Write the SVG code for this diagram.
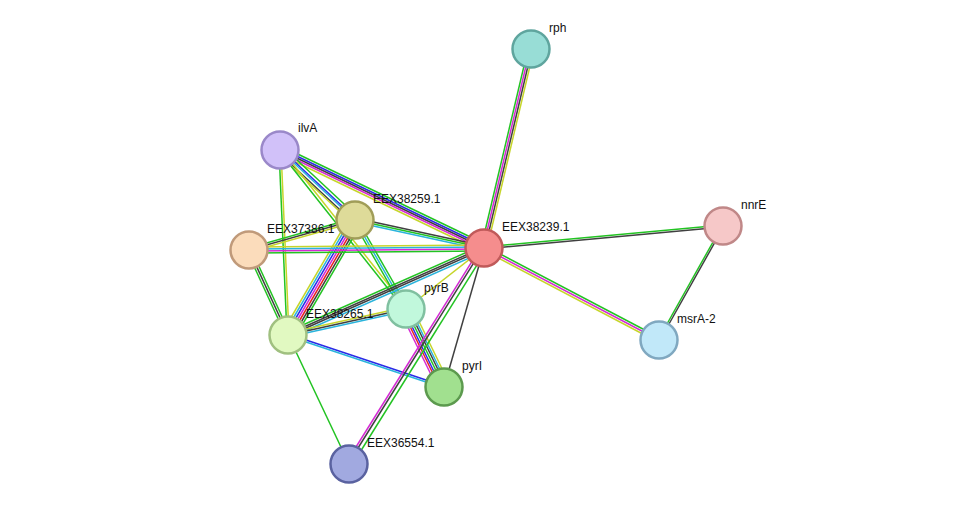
<svg xmlns="http://www.w3.org/2000/svg" width="976" height="510" viewBox="0 0 976 510">
<style>
line{stroke-width:1.5;fill:none}
.g{stroke:#22c322}.k{stroke:#404040}.m{stroke:#d42ad4}.y{stroke:#c6d52a}.b{stroke:#2a2ae8}.c{stroke:#2ab4dc}.r{stroke:#e82020}
circle{stroke-width:2.5}
text{font-family:"Liberation Sans",Arial,sans-serif;font-size:12px;fill:#111}
</style>
<rect width="976" height="510" fill="#fff"/>
<g id="connectors">
<!-- rph-EEX38239 -->
<g><line class="g" x1="528" y1="49" x2="481" y2="248"/><line class="m" x1="530" y1="49" x2="483" y2="248"/><line class="k" x1="532" y1="49" x2="485" y2="248"/><line class="y" x1="534" y1="49" x2="487" y2="248"/></g>
<!-- ilvA-EEX38239 -->
<g><line class="g" x1="281" y1="146" x2="485" y2="244"/><line class="b" x1="280" y1="148" x2="484" y2="246"/><line class="k" x1="280" y1="150" x2="484" y2="248"/><line class="m" x1="280" y1="152" x2="484" y2="250"/><line class="y" x1="279" y1="154" x2="483" y2="252"/></g>
<!-- ilvA-EEX38259 -->
<g><line class="g" x1="283" y1="147" x2="358" y2="217"/><line class="b" x1="281" y1="149" x2="356" y2="219"/><line class="c" x1="280" y1="150" x2="355" y2="220"/><line class="k" x1="278" y1="152" x2="353" y2="222"/><line class="y" x1="277" y1="153" x2="352" y2="223"/></g>
<!-- ilvA-EEX38265 -->
<g><line class="g" x1="279" y1="150" x2="287" y2="335"/><line class="y" x1="281" y1="150" x2="289" y2="335"/></g>
<!-- ilvA-pyrB -->
<g><line class="y" x1="281" y1="149" x2="407" y2="308"/><line class="g" x1="279" y1="151" x2="405" y2="310"/></g>
<!-- EEX38259-pyrB -->
<g><line class="g" x1="357" y1="219" x2="408" y2="308"/><line class="c" x1="355" y1="220" x2="406" y2="309"/><line class="g" x1="353" y1="221" x2="404" y2="310"/></g>
<!-- EEX38259-EEX38239 -->
<g><line class="k" x1="355" y1="218" x2="484" y2="246"/><line class="g" x1="355" y1="220" x2="484" y2="248"/><line class="c" x1="355" y1="222" x2="484" y2="250"/></g>
<!-- EEX38259-EEX37386 -->
<g><line class="g" x1="355" y1="218" x2="249" y2="248"/><line class="k" x1="355" y1="220" x2="249" y2="250"/><line class="y" x1="355" y1="222" x2="249" y2="252"/></g>
<!-- EEX38259-EEX38265 -->
<g><line class="y" x1="349" y1="218" x2="282" y2="333"/><line class="c" x1="351" y1="219" x2="284" y2="334"/><line class="b" x1="353" y1="220" x2="286" y2="335"/><line class="m" x1="355" y1="221" x2="288" y2="336"/><line class="r" x1="357" y1="222" x2="290" y2="337"/><line class="k" x1="359" y1="223" x2="292" y2="338"/><line class="g" x1="361" y1="224" x2="294" y2="339"/></g>
<!-- EEX37386-EEX38239 -->
<g><line class="y" x1="249" y1="247" x2="484" y2="245"/><line class="c" x1="249" y1="249" x2="484" y2="247"/><line class="m" x1="249" y1="251" x2="484" y2="249"/><line class="g" x1="249" y1="253" x2="484" y2="251"/></g>
<!-- EEX37386-EEX38265 -->
<g><line class="g" x1="247" y1="251" x2="286" y2="336"/><line class="k" x1="249" y1="250" x2="288" y2="335"/><line class="g" x1="251" y1="249" x2="290" y2="334"/></g>
<!-- EEX38265-EEX38239 -->
<g><line class="g" x1="287" y1="332" x2="483" y2="245"/><line class="k" x1="288" y1="334" x2="484" y2="247"/><line class="k" x1="288" y1="336" x2="484" y2="249"/><line class="c" x1="289" y1="338" x2="485" y2="251"/></g>
<!-- EEX38265-pyrB -->
<g><line class="y" x1="288" y1="333" x2="406" y2="307"/><line class="k" x1="288" y1="335" x2="406" y2="309"/><line class="c" x1="288" y1="337" x2="406" y2="311"/></g>
<!-- EEX38265-pyrI -->
<g><line class="b" x1="288" y1="334" x2="444" y2="386"/><line class="c" x1="288" y1="336" x2="444" y2="388"/></g>
<!-- EEX38265-EEX36554 -->
<line class="g" x1="288" y1="335" x2="349" y2="464"/>
<!-- pyrB-EEX38239 -->
<line class="y" x1="406" y1="309" x2="484" y2="248"/>
<!-- pyrB-pyrI -->
<g><line class="m" x1="400" y1="311" x2="438" y2="389"/><line class="r" x1="402" y1="310" x2="440" y2="388"/><line class="b" x1="404" y1="310" x2="442" y2="388"/><line class="g" x1="406" y1="309" x2="444" y2="387"/><line class="k" x1="408" y1="308" x2="446" y2="386"/><line class="c" x1="410" y1="308" x2="448" y2="386"/><line class="y" x1="412" y1="307" x2="450" y2="385"/></g>
<!-- EEX38239-pyrI -->
<line class="k" x1="484" y1="248" x2="444" y2="387"/>
<!-- EEX38239-EEX36554 -->
<g><line class="m" x1="481" y1="247" x2="346" y2="463"/><line class="k" x1="483" y1="248" x2="348" y2="464"/><line class="g" x1="487" y1="249" x2="352" y2="465"/></g>
<!-- EEX38239-nnrE -->
<g><line class="g" x1="484" y1="247" x2="723" y2="225"/><line class="k" x1="484" y1="249" x2="723" y2="227"/></g>
<!-- EEX38239-msrA-2 -->
<g><line class="g" x1="485" y1="246" x2="660" y2="338"/><line class="m" x1="484" y1="248" x2="659" y2="340"/><line class="y" x1="483" y1="250" x2="658" y2="342"/></g>
<!-- nnrE-msrA-2 -->
<g><line class="g" x1="722" y1="226" x2="658" y2="340"/><line class="k" x1="724" y1="226" x2="660" y2="340"/></g>
</g>
<g id="rph"><circle cx="531" cy="49" r="18.5" fill="#98ddd6" stroke="#5fa59e"/><text x="549" y="32">rph</text></g>
<g id="ilvA"><circle cx="280" cy="150" r="18.5" fill="#d1c1f9" stroke="#9a88c9"/><text x="298" y="132">ilvA</text></g>
<g id="EEX38259"><circle cx="355" cy="220" r="18.5" fill="#dedb99" stroke="#a09d58"/><text x="373" y="203">EEX38259.1</text></g>
<g id="EEX37386"><circle cx="249" cy="250" r="18.5" fill="#fbdcbb" stroke="#c09a7a"/><text x="267" y="233">EEX37386.1</text></g>
<g id="EEX38239"><circle cx="484" cy="248" r="18.5" fill="#f58d8d" stroke="#c05a5a"/><text x="502" y="231">EEX38239.1</text></g>
<g id="nnrE"><circle cx="723" cy="226" r="18.5" fill="#f6c8c8" stroke="#c08888"/><text x="741" y="209">nnrE</text></g>
<g id="pyrB"><circle cx="406" cy="309" r="18.5" fill="#c1f8dc" stroke="#80c0a0"/><text x="424" y="292">pyrB</text></g>
<g id="EEX38265"><circle cx="288" cy="335" r="18.5" fill="#e1f9c1" stroke="#a0c080"/><text x="306" y="318">EEX38265.1</text></g>
<g id="msrA-2"><circle cx="659" cy="340" r="18.5" fill="#c1e8f9" stroke="#80a8c0"/><text x="677" y="323">msrA-2</text></g>
<g id="pyrI"><circle cx="444" cy="387" r="18.5" fill="#a1e08f" stroke="#5c9a4e"/><text x="462" y="370">pyrI</text></g>
<g id="EEX36554"><circle cx="349" cy="464" r="18.5" fill="#a1a9e0" stroke="#5a62a0"/><text x="367" y="447">EEX36554.1</text></g>
</svg>
